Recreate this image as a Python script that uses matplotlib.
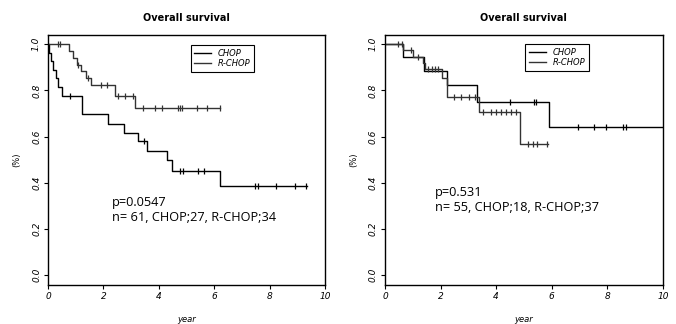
import numpy as np
import matplotlib
matplotlib.use("Agg")
import matplotlib.pyplot as plt

# ---- left panel (n=61) ----
left_chop_t = [0.03, 0.10, 0.19, 0.28, 0.37, 0.52, 1.22, 2.15, 2.74, 3.23, 3.56, 4.28, 4.46, 6.20]
left_chop_s = [0.963, 0.926, 0.889, 0.852, 0.815, 0.778, 0.696, 0.656, 0.617, 0.580, 0.537, 0.497, 0.453, 0.388]
left_chop_end = 9.34
left_chop_cens = [0.79, 3.47, 4.77, 4.86, 5.43, 5.63, 7.47, 7.56, 8.23, 8.92, 9.31]

left_rchop_t = [0.76, 0.90, 1.04, 1.20, 1.36, 1.55, 2.42, 3.14]
left_rchop_s = [0.971, 0.941, 0.912, 0.882, 0.853, 0.823, 0.775, 0.726]
left_rchop_end = 6.21
left_rchop_cens = [0.35, 0.45, 1.10, 1.45, 1.90, 2.12, 2.54, 2.78, 3.05,
                   3.42, 3.86, 4.10, 4.70, 4.77, 4.83, 5.37, 5.73, 6.21]

# ---- right panel (n=55) ----
right_chop_t = [0.64, 1.40, 2.22, 3.30, 5.91]
right_chop_s = [0.944, 0.882, 0.823, 0.751, 0.642]
right_chop_end = 10.0
right_chop_cens = [4.51, 5.38, 5.45, 6.95, 7.52, 7.97, 8.57, 8.66]

right_rchop_t = [0.64, 1.02, 1.38, 1.45, 2.04, 2.22, 3.38, 4.86]
right_rchop_s = [0.973, 0.946, 0.919, 0.892, 0.852, 0.770, 0.707, 0.566]
right_rchop_end = 5.87
right_rchop_cens = [0.48, 0.60, 0.92, 1.20, 1.56, 1.68, 1.80, 1.92, 2.48, 2.75, 3.03, 3.25,
                    3.54, 3.80, 3.99, 4.17, 4.35, 4.53, 4.71, 5.16, 5.31, 5.46, 5.84]

left_text = ["p=0.0547", "n= 61, CHOP;27, R-CHOP;34"]
right_text = ["p=0.531", "n= 55, CHOP;18, R-CHOP;37"]

xticks = [0, 2, 4, 6, 8, 10]
yticks = [0.0, 0.2, 0.4, 0.6, 0.8, 1.0]


def kmCurve(ax, times, surv, end, cens, color, label):
    x = [0] + list(times) + [end]
    y = [1.0] + list(surv) + [surv[-1]]
    ax.step(x, y, where='post', color=color, lw=1.0, label=label)
    # censor marks sit on the step level
    idx = np.searchsorted(np.array(times), np.array(cens), side='right')
    levels = np.array([1.0] + list(surv))[idx]
    ax.plot(cens, levels, ls='none', marker='|', ms=5, mew=0.9, color=color)


def setupPanel(ax, texts, tx, ty, legx, legy):
    ax.set_xlim(0, 10)
    ax.set_ylim(-0.043, 1.04)
    ax.set_xticks(xticks)
    ax.set_xticklabels([str(t) for t in xticks], fontsize=6.5, style='italic')
    ax.set_yticks(yticks)
    ax.set_yticklabels(['%.1f' % t for t in yticks], fontsize=6.5, rotation=90,
                       va='center', style='italic')
    ax.tick_params(length=3, width=0.8, pad=2)
    for s in ax.spines.values():
        s.set_linewidth(1.0)
    ax.set_title('Overall survival', fontsize=7, fontweight='semibold', pad=10)
    ax.set_xlabel('year', fontsize=6, style='italic', labelpad=10)
    ax.set_ylabel('(%)', fontsize=6, labelpad=8)
    ax.text(tx, ty, texts[0], fontsize=9.2, family='Open Sans')
    ax.text(tx, ty - 0.065, texts[1], fontsize=9.2, family='Open Sans')
    leg = ax.legend(loc='upper left', bbox_to_anchor=(legx, legy),
                    prop={'style': 'italic', 'size': 6}, fancybox=False,
                    edgecolor='black', framealpha=1, handlelength=2.0,
                    borderpad=0.45, labelspacing=0.15)
    leg.get_frame().set_linewidth(0.8)


fig = plt.figure(figsize=(6.76, 3.24), dpi=100)
ax1 = fig.add_axes([0.071, 0.120, 0.410, 0.772])
ax2 = fig.add_axes([0.5695, 0.120, 0.411, 0.772])

kmCurve(ax1, left_chop_t, left_chop_s, left_chop_end, left_chop_cens, 'black', 'CHOP')
kmCurve(ax1, left_rchop_t, left_rchop_s, left_rchop_end, left_rchop_cens, '#333333', 'R-CHOP')
setupPanel(ax1, left_text, 2.3, 0.30, 0.50, 0.975)

kmCurve(ax2, right_chop_t, right_chop_s, right_chop_end, right_chop_cens, 'black', 'CHOP')
kmCurve(ax2, right_rchop_t, right_rchop_s, right_rchop_end, right_rchop_cens, '#333333', 'R-CHOP')
setupPanel(ax2, right_text, 1.8, 0.345, 0.49, 0.98)

fig.savefig('out.png', dpi=100)
